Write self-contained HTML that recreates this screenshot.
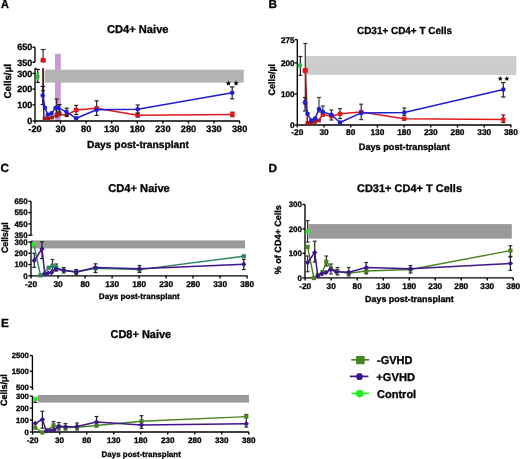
<!DOCTYPE html>
<html><head><meta charset="utf-8"><title>Figure</title>
<style>
html,body{margin:0;padding:0;background:#fff;}
body{width:520px;height:459px;overflow:hidden;}
svg{display:block;filter:blur(0.3px);}
</style></head>
<body>
<svg width="520" height="459" viewBox="0 0 520 459" font-family="Liberation Sans, sans-serif" font-weight="bold" fill="#000" style="text-rendering:geometricPrecision">
<style>text{font-family:"Liberation Sans",sans-serif;font-weight:bold;stroke:#000;stroke-width:0.3px;}</style>
<rect x="0" y="0" width="520" height="459" fill="#fff"/>
<text x="1.0" y="8.4" font-size="11.8" text-anchor="start" textLength="7.9" lengthAdjust="spacingAndGlyphs" >A</text>
<text x="107" y="33" font-size="11.3" text-anchor="start" textLength="61.5" lengthAdjust="spacingAndGlyphs" >CD4+ Naive</text>
<rect x="55" y="53.8" width="5.8" height="67.2" fill="#c89bd2"/>
<rect x="44.6" y="69.6" width="199.20000000000002" height="13.0" fill="#b3b3b3"/>
<line x1="35" y1="47.2" x2="35" y2="62.3" stroke="#000" stroke-width="1.35"/>
<line x1="32.4" y1="47.2" x2="35" y2="47.2" stroke="#000" stroke-width="1.35"/>
<text x="32.2" y="50.440000000000005" font-size="9" text-anchor="end" >650</text>
<line x1="32.4" y1="62.3" x2="35" y2="62.3" stroke="#000" stroke-width="1.35"/>
<text x="32.2" y="65.53999999999999" font-size="9" text-anchor="end" >350</text>
<line x1="35" y1="68.3" x2="35" y2="121" stroke="#000" stroke-width="1.35"/>
<line x1="32.4" y1="73.4" x2="35" y2="73.4" stroke="#000" stroke-width="1.35"/>
<text x="32.2" y="76.64" font-size="9" text-anchor="end" >300</text>
<line x1="32.4" y1="89.1" x2="35" y2="89.1" stroke="#000" stroke-width="1.35"/>
<text x="32.2" y="92.33999999999999" font-size="9" text-anchor="end" >200</text>
<line x1="32.4" y1="104.9" x2="35" y2="104.9" stroke="#000" stroke-width="1.35"/>
<text x="32.2" y="108.14" font-size="9" text-anchor="end" >100</text>
<line x1="32.4" y1="121" x2="35" y2="121" stroke="#000" stroke-width="1.35"/>
<text x="32.2" y="124.24" font-size="9" text-anchor="end" >0</text>
<line x1="35" y1="68.3" x2="36.6" y2="68.3" stroke="#000" stroke-width="1.1"/>
<line x1="34.5" y1="121" x2="239.8" y2="121" stroke="#000" stroke-width="1.35"/>
<line x1="35.0" y1="121" x2="35.0" y2="123.6" stroke="#000" stroke-width="1.35"/>
<text x="35.0" y="132.4" font-size="9.2" text-anchor="middle" >-20</text>
<line x1="60.575" y1="121" x2="60.575" y2="123.6" stroke="#000" stroke-width="1.35"/>
<text x="60.575" y="132.4" font-size="9.2" text-anchor="middle" >30</text>
<line x1="86.15" y1="121" x2="86.15" y2="123.6" stroke="#000" stroke-width="1.35"/>
<text x="86.15" y="132.4" font-size="9.2" text-anchor="middle" >80</text>
<line x1="111.725" y1="121" x2="111.725" y2="123.6" stroke="#000" stroke-width="1.35"/>
<text x="111.725" y="132.4" font-size="9.2" text-anchor="middle" >130</text>
<line x1="137.3" y1="121" x2="137.3" y2="123.6" stroke="#000" stroke-width="1.35"/>
<text x="137.3" y="132.4" font-size="9.2" text-anchor="middle" >180</text>
<line x1="162.875" y1="121" x2="162.875" y2="123.6" stroke="#000" stroke-width="1.35"/>
<text x="162.875" y="132.4" font-size="9.2" text-anchor="middle" >230</text>
<line x1="188.45" y1="121" x2="188.45" y2="123.6" stroke="#000" stroke-width="1.35"/>
<text x="188.45" y="132.4" font-size="9.2" text-anchor="middle" >280</text>
<line x1="214.02499999999998" y1="121" x2="214.02499999999998" y2="123.6" stroke="#000" stroke-width="1.35"/>
<text x="214.02499999999998" y="132.4" font-size="9.2" text-anchor="middle" >330</text>
<line x1="239.6" y1="121" x2="239.6" y2="123.6" stroke="#000" stroke-width="1.35"/>
<text x="239.6" y="132.4" font-size="9.2" text-anchor="middle" >380</text>
<text x="87" y="148" font-size="10.2" text-anchor="start" textLength="102" lengthAdjust="spacingAndGlyphs" >Days post-transplant</text>
<text x="11.2" y="98.4" font-size="9.9" transform="rotate(-90 11.2 98.4)" textLength="34.3" lengthAdjust="spacingAndGlyphs">Cells/µl</text>
<line x1="37.7" y1="69.4" x2="37.7" y2="82.4" stroke="#111" stroke-width="1.2"/>
<line x1="35.6" y1="69.4" x2="39.800000000000004" y2="69.4" stroke="#111" stroke-width="1.2"/>
<line x1="35.6" y1="82.4" x2="39.800000000000004" y2="82.4" stroke="#111" stroke-width="1.2"/>
<line x1="37.7" y1="72.5" x2="37.7" y2="80.4" stroke="#3cb43c" stroke-width="2.6"/>
<circle cx="37.7" cy="76.4" r="2.0" fill="#3cb43c"/>
<line x1="43.1" y1="49.5" x2="43.1" y2="61" stroke="#333" stroke-width="1.2"/>
<line x1="40.7" y1="49.5" x2="45.5" y2="49.5" stroke="#333" stroke-width="1.2"/>
<line x1="40.7" y1="61" x2="45.5" y2="61" stroke="#333" stroke-width="1.2"/>
<line x1="43.05" y1="68.3" x2="43.05" y2="86.5" stroke="#5a1010" stroke-width="1.3"/>
<line x1="41" y1="86.5" x2="45.2" y2="86.5" stroke="#5a1010" stroke-width="1.1"/>
<line x1="41" y1="90.7" x2="45.2" y2="90.7" stroke="#5a1010" stroke-width="1.1"/>
<line x1="56.6" y1="99" x2="56.6" y2="117" stroke="#3a2020" stroke-width="1.2"/>
<line x1="54.5" y1="99" x2="58.7" y2="99" stroke="#3a2020" stroke-width="1.2"/>
<line x1="54.5" y1="117" x2="58.7" y2="117" stroke="#3a2020" stroke-width="1.2"/>
<line x1="76.2" y1="105.4" x2="76.2" y2="114.6" stroke="#3a2020" stroke-width="1.2"/>
<line x1="74.10000000000001" y1="105.4" x2="78.3" y2="105.4" stroke="#3a2020" stroke-width="1.2"/>
<line x1="74.10000000000001" y1="114.6" x2="78.3" y2="114.6" stroke="#3a2020" stroke-width="1.2"/>
<line x1="96.6" y1="100.8" x2="96.6" y2="115.4" stroke="#2a2a2a" stroke-width="1.2"/>
<line x1="94.5" y1="100.8" x2="98.69999999999999" y2="100.8" stroke="#2a2a2a" stroke-width="1.2"/>
<line x1="94.5" y1="115.4" x2="98.69999999999999" y2="115.4" stroke="#2a2a2a" stroke-width="1.2"/>
<line x1="232.4" y1="112.2" x2="232.4" y2="116.6" stroke="#5a1010" stroke-width="1.2"/>
<line x1="230.3" y1="112.2" x2="234.5" y2="112.2" stroke="#5a1010" stroke-width="1.2"/>
<line x1="230.3" y1="116.6" x2="234.5" y2="116.6" stroke="#5a1010" stroke-width="1.2"/>
<line x1="137.7" y1="113.5" x2="137.7" y2="117" stroke="#5a1010" stroke-width="1.2"/>
<line x1="135.6" y1="113.5" x2="139.79999999999998" y2="113.5" stroke="#5a1010" stroke-width="1.2"/>
<line x1="135.6" y1="117" x2="139.79999999999998" y2="117" stroke="#5a1010" stroke-width="1.2"/>
<polyline points="44.6,118.2 48.2,118.8 52,117.6 56.6,114.6 59.6,114.2 66.8,115.2 76.2,110 96.6,108.2 137.7,115.3 232.4,114.4" fill="none" stroke="#e0191e" stroke-width="1.5" stroke-linejoin="round"/>
<line x1="43.05" y1="68.3" x2="43.9" y2="118" stroke="#5a1010" stroke-width="1.4"/>
<rect x="42.7" y="116.3" width="3.8" height="3.8" fill="#a81818"/>
<rect x="46.300000000000004" y="116.89999999999999" width="3.8" height="3.8" fill="#a81818"/>
<rect x="50.1" y="115.69999999999999" width="3.8" height="3.8" fill="#a81818"/>
<rect x="54.7" y="112.69999999999999" width="3.8" height="3.8" fill="#a81818"/>
<rect x="57.7" y="112.3" width="3.8" height="3.8" fill="#a81818"/>
<rect x="64.89999999999999" y="113.3" width="3.8" height="3.8" fill="#a81818"/>
<rect x="74.0" y="107.8" width="4.4" height="4.4" fill="#e0191e"/>
<rect x="94.39999999999999" y="106.0" width="4.4" height="4.4" fill="#e0191e"/>
<rect x="135.5" y="113.1" width="4.4" height="4.4" fill="#e0191e"/>
<rect x="230.20000000000002" y="112.2" width="4.4" height="4.4" fill="#e0191e"/>
<rect x="40.6" y="57.7" width="5.1" height="5" rx="1.2" fill="#e0191e"/>
<line x1="42.7" y1="86.4" x2="42.7" y2="104.6" stroke="#1a1a4a" stroke-width="1.2"/>
<line x1="40.6" y1="86.4" x2="44.800000000000004" y2="86.4" stroke="#1a1a4a" stroke-width="1.2"/>
<line x1="40.6" y1="104.6" x2="44.800000000000004" y2="104.6" stroke="#1a1a4a" stroke-width="1.2"/>
<line x1="59.5" y1="104.6" x2="59.5" y2="112" stroke="#222" stroke-width="1.2"/>
<line x1="57.4" y1="104.6" x2="61.6" y2="104.6" stroke="#222" stroke-width="1.2"/>
<line x1="57.4" y1="112" x2="61.6" y2="112" stroke="#222" stroke-width="1.2"/>
<line x1="66.8" y1="108.2" x2="66.8" y2="116.2" stroke="#222" stroke-width="1.2"/>
<line x1="64.7" y1="108.2" x2="68.89999999999999" y2="108.2" stroke="#222" stroke-width="1.2"/>
<line x1="64.7" y1="116.2" x2="68.89999999999999" y2="116.2" stroke="#222" stroke-width="1.2"/>
<line x1="137.7" y1="105" x2="137.7" y2="113" stroke="#222" stroke-width="1.2"/>
<line x1="135.6" y1="105" x2="139.79999999999998" y2="105" stroke="#222" stroke-width="1.2"/>
<line x1="135.6" y1="113" x2="139.79999999999998" y2="113" stroke="#222" stroke-width="1.2"/>
<line x1="232.2" y1="86.9" x2="232.2" y2="98.8" stroke="#222" stroke-width="1.2"/>
<line x1="230.0" y1="86.9" x2="234.39999999999998" y2="86.9" stroke="#222" stroke-width="1.2"/>
<line x1="230.0" y1="98.8" x2="234.39999999999998" y2="98.8" stroke="#222" stroke-width="1.2"/>
<polyline points="42.7,95.5 44.9,107.8 47.9,114.8 51.5,113.4 55.5,108 58,107.6 66.4,111.8 76.2,118.3 96.6,109.7 137.7,109.2 232.2,92.8" fill="none" stroke="#1e1ed2" stroke-width="1.5" stroke-linejoin="round"/>
<circle cx="42.7" cy="95.5" r="2.3" fill="#1e1ed2"/>
<circle cx="44.9" cy="107.8" r="2.3" fill="#1e1ed2"/>
<circle cx="47.9" cy="114.8" r="2.3" fill="#1e1ed2"/>
<circle cx="51.5" cy="113.4" r="2.3" fill="#1e1ed2"/>
<circle cx="55.5" cy="108" r="2.3" fill="#1e1ed2"/>
<circle cx="58" cy="107.6" r="2.3" fill="#1e1ed2"/>
<circle cx="66.4" cy="111.8" r="2.3" fill="#1e1ed2"/>
<circle cx="76.2" cy="118.3" r="2.3" fill="#1e1ed2"/>
<circle cx="96.6" cy="109.7" r="2.3" fill="#1e1ed2"/>
<circle cx="137.7" cy="109.2" r="2.3" fill="#1e1ed2"/>
<circle cx="232.2" cy="92.8" r="2.3" fill="#1e1ed2"/>
<polygon points="228.40,80.60 229.19,82.21 230.97,82.47 229.68,83.72 229.99,85.48 228.40,84.65 226.81,85.48 227.12,83.72 225.83,82.47 227.61,82.21" fill="#000"/>
<polygon points="236.10,80.60 236.89,82.21 238.67,82.47 237.38,83.72 237.69,85.48 236.10,84.65 234.51,85.48 234.82,83.72 233.53,82.47 235.31,82.21" fill="#000"/>
<text x="268.6" y="8.2" font-size="11.8" text-anchor="start" >B</text>
<text x="357" y="34.3" font-size="10.2" text-anchor="start" textLength="95" lengthAdjust="spacingAndGlyphs" >CD31+ CD4+ T Cells</text>
<rect x="305.8" y="56.1" width="210.49999999999994" height="18.9" fill="#cdcdcd"/>
<line x1="297.3" y1="39.6" x2="297.3" y2="125" stroke="#000" stroke-width="1.35"/>
<line x1="294.7" y1="39.6125" x2="297.3" y2="39.6125" stroke="#000" stroke-width="1.35"/>
<text x="294.6" y="42.564499999999995" font-size="8.2" text-anchor="end" >275</text>
<line x1="294.7" y1="62.9" x2="297.3" y2="62.9" stroke="#000" stroke-width="1.35"/>
<text x="294.6" y="65.852" font-size="8.2" text-anchor="end" >200</text>
<line x1="294.7" y1="93.95" x2="297.3" y2="93.95" stroke="#000" stroke-width="1.35"/>
<text x="294.6" y="96.902" font-size="8.2" text-anchor="end" >100</text>
<line x1="294.7" y1="125.0" x2="297.3" y2="125.0" stroke="#000" stroke-width="1.35"/>
<text x="294.6" y="127.952" font-size="8.2" text-anchor="end" >0</text>
<line x1="296.8" y1="125" x2="511.2" y2="125" stroke="#000" stroke-width="1.35"/>
<line x1="297.3" y1="125" x2="297.3" y2="127.6" stroke="#000" stroke-width="1.35"/>
<text x="297.3" y="135.4" font-size="8.3" text-anchor="middle" >-20</text>
<line x1="324.0" y1="125" x2="324.0" y2="127.6" stroke="#000" stroke-width="1.35"/>
<text x="324.0" y="135.4" font-size="8.3" text-anchor="middle" >30</text>
<line x1="350.70000000000005" y1="125" x2="350.70000000000005" y2="127.6" stroke="#000" stroke-width="1.35"/>
<text x="350.70000000000005" y="135.4" font-size="8.3" text-anchor="middle" >80</text>
<line x1="377.40000000000003" y1="125" x2="377.40000000000003" y2="127.6" stroke="#000" stroke-width="1.35"/>
<text x="377.40000000000003" y="135.4" font-size="8.3" text-anchor="middle" >130</text>
<line x1="404.1" y1="125" x2="404.1" y2="127.6" stroke="#000" stroke-width="1.35"/>
<text x="404.1" y="135.4" font-size="8.3" text-anchor="middle" >180</text>
<line x1="430.8" y1="125" x2="430.8" y2="127.6" stroke="#000" stroke-width="1.35"/>
<text x="430.8" y="135.4" font-size="8.3" text-anchor="middle" >230</text>
<line x1="457.5" y1="125" x2="457.5" y2="127.6" stroke="#000" stroke-width="1.35"/>
<text x="457.5" y="135.4" font-size="8.3" text-anchor="middle" >280</text>
<line x1="484.20000000000005" y1="125" x2="484.20000000000005" y2="127.6" stroke="#000" stroke-width="1.35"/>
<text x="484.20000000000005" y="135.4" font-size="8.3" text-anchor="middle" >330</text>
<line x1="510.90000000000003" y1="125" x2="510.90000000000003" y2="127.6" stroke="#000" stroke-width="1.35"/>
<text x="510.90000000000003" y="135.4" font-size="8.3" text-anchor="middle" >380</text>
<text x="358.8" y="150.0" font-size="9.4" text-anchor="start" textLength="91.2" lengthAdjust="spacingAndGlyphs" >Days post-transplant</text>
<text x="275.2" y="95.4" font-size="9.4" transform="rotate(-90 275.2 95.4)" textLength="31.5" lengthAdjust="spacingAndGlyphs">Cells/µl</text>
<line x1="300.4" y1="56.5" x2="300.4" y2="75.3" stroke="#222" stroke-width="1.2"/>
<line x1="298.4" y1="56.5" x2="302.4" y2="56.5" stroke="#222" stroke-width="1.2"/>
<line x1="298.4" y1="75.3" x2="302.4" y2="75.3" stroke="#222" stroke-width="1.2"/>
<circle cx="299.9" cy="65.4" r="2.4" fill="#30c040"/>
<line x1="305.3" y1="43.5" x2="305.3" y2="104" stroke="#3a2a2a" stroke-width="1.2"/>
<line x1="303.3" y1="43.5" x2="307.3" y2="43.5" stroke="#3a2a2a" stroke-width="1.2"/>
<line x1="303.3" y1="104" x2="307.3" y2="104" stroke="#3a2a2a" stroke-width="1.2"/>
<line x1="319" y1="97.5" x2="319" y2="112" stroke="#444" stroke-width="1.2"/>
<line x1="317.0" y1="97.5" x2="321.0" y2="97.5" stroke="#444" stroke-width="1.2"/>
<line x1="317.0" y1="112" x2="321.0" y2="112" stroke="#444" stroke-width="1.2"/>
<line x1="322.8" y1="106" x2="322.8" y2="116" stroke="#333" stroke-width="1.2"/>
<line x1="320.8" y1="106" x2="324.8" y2="106" stroke="#333" stroke-width="1.2"/>
<line x1="320.8" y1="116" x2="324.8" y2="116" stroke="#333" stroke-width="1.2"/>
<line x1="331.4" y1="110" x2="331.4" y2="120" stroke="#333" stroke-width="1.2"/>
<line x1="329.4" y1="110" x2="333.4" y2="110" stroke="#333" stroke-width="1.2"/>
<line x1="329.4" y1="120" x2="333.4" y2="120" stroke="#333" stroke-width="1.2"/>
<line x1="340" y1="108.7" x2="340" y2="118.6" stroke="#333" stroke-width="1.2"/>
<line x1="338.0" y1="108.7" x2="342.0" y2="108.7" stroke="#333" stroke-width="1.2"/>
<line x1="338.0" y1="118.6" x2="342.0" y2="118.6" stroke="#333" stroke-width="1.2"/>
<line x1="361.2" y1="104.2" x2="361.2" y2="119.6" stroke="#333" stroke-width="1.2"/>
<line x1="359.2" y1="104.2" x2="363.2" y2="104.2" stroke="#333" stroke-width="1.2"/>
<line x1="359.2" y1="119.6" x2="363.2" y2="119.6" stroke="#333" stroke-width="1.2"/>
<line x1="404.3" y1="108" x2="404.3" y2="115.5" stroke="#333" stroke-width="1.2"/>
<line x1="402.3" y1="108" x2="406.3" y2="108" stroke="#333" stroke-width="1.2"/>
<line x1="402.3" y1="115.5" x2="406.3" y2="115.5" stroke="#333" stroke-width="1.2"/>
<line x1="503.3" y1="115" x2="503.3" y2="122.5" stroke="#5a1010" stroke-width="1.2"/>
<line x1="501.3" y1="115" x2="505.3" y2="115" stroke="#5a1010" stroke-width="1.2"/>
<line x1="501.3" y1="122.5" x2="505.3" y2="122.5" stroke="#5a1010" stroke-width="1.2"/>
<polyline points="307.4,122.9 311,123 315,122 319,120.5 322.8,114.5 331.4,116.2 340,113.8 361.2,112 404.3,118.8 503.3,119.5" fill="none" stroke="#e0191e" stroke-width="1.5" stroke-linejoin="round"/>
<line x1="305.5" y1="70.7" x2="307.4" y2="122.9" stroke="#a01515" stroke-width="1.5"/>
<rect x="303.35" y="68.55" width="4.3" height="4.3" fill="#e0191e"/>
<rect x="305.5" y="121.0" width="3.8" height="3.8" fill="#b01818"/>
<rect x="309.1" y="121.1" width="3.8" height="3.8" fill="#b01818"/>
<rect x="313.1" y="120.1" width="3.8" height="3.8" fill="#b01818"/>
<rect x="317.1" y="118.6" width="3.8" height="3.8" fill="#b01818"/>
<rect x="320.65000000000003" y="112.35" width="4.3" height="4.3" fill="#e0191e"/>
<rect x="329.25" y="114.05" width="4.3" height="4.3" fill="#e0191e"/>
<rect x="337.85" y="111.64999999999999" width="4.3" height="4.3" fill="#e0191e"/>
<rect x="359.05" y="109.85" width="4.3" height="4.3" fill="#e0191e"/>
<rect x="402.15000000000003" y="116.64999999999999" width="4.3" height="4.3" fill="#e0191e"/>
<rect x="501.15000000000003" y="117.35" width="4.3" height="4.3" fill="#e0191e"/>
<rect x="302.6" y="68.1" width="5.1" height="5.1" rx="1.2" fill="#e0191e"/>
<line x1="503.3" y1="82.5" x2="503.3" y2="97" stroke="#222" stroke-width="1.2"/>
<line x1="501.1" y1="82.5" x2="505.5" y2="82.5" stroke="#222" stroke-width="1.2"/>
<line x1="501.1" y1="97" x2="505.5" y2="97" stroke="#222" stroke-width="1.2"/>
<polyline points="305,102.3 307.5,113.8 311.3,120.5 315.1,118.6 319,109 322.8,111.9 331.4,114.8 340,122.5 361.2,112.9 404.3,112.5 503.3,89.5" fill="none" stroke="#1e1ed2" stroke-width="1.5" stroke-linejoin="round"/>
<line x1="305" y1="97.5" x2="305" y2="111" stroke="#222" stroke-width="1.2"/>
<line x1="303.0" y1="97.5" x2="307.0" y2="97.5" stroke="#222" stroke-width="1.2"/>
<line x1="303.0" y1="111" x2="307.0" y2="111" stroke="#222" stroke-width="1.2"/>
<circle cx="305" cy="102.3" r="2.3" fill="#1e1ed2"/>
<circle cx="307.5" cy="113.8" r="2.3" fill="#1e1ed2"/>
<circle cx="311.3" cy="120.5" r="2.3" fill="#1e1ed2"/>
<circle cx="315.1" cy="118.6" r="2.3" fill="#1e1ed2"/>
<circle cx="319" cy="109" r="2.3" fill="#1e1ed2"/>
<circle cx="322.8" cy="111.9" r="2.3" fill="#1e1ed2"/>
<circle cx="331.4" cy="114.8" r="2.3" fill="#1e1ed2"/>
<circle cx="340" cy="122.5" r="2.3" fill="#1e1ed2"/>
<circle cx="361.2" cy="112.9" r="2.3" fill="#1e1ed2"/>
<circle cx="404.3" cy="112.5" r="2.3" fill="#1e1ed2"/>
<circle cx="503.3" cy="89.5" r="2.3" fill="#1e1ed2"/>
<polygon points="500.30,76.10 501.06,77.65 502.77,77.90 501.54,79.10 501.83,80.80 500.30,80.00 498.77,80.80 499.06,79.10 497.83,77.90 499.54,77.65" fill="#000"/>
<polygon points="506.80,76.10 507.56,77.65 509.27,77.90 508.04,79.10 508.33,80.80 506.80,80.00 505.27,80.80 505.56,79.10 504.33,77.90 506.04,77.65" fill="#000"/>
<text x="0.6" y="172.2" font-size="11.8" text-anchor="start" >C</text>
<text x="108.3" y="192" font-size="11.3" text-anchor="start" textLength="61.5" lengthAdjust="spacingAndGlyphs" >CD4+ Naive</text>
<rect x="31.5" y="240.4" width="213.5" height="8.0" fill="#999999"/>
<line x1="31" y1="201.3" x2="31" y2="235.2" stroke="#000" stroke-width="1.35"/>
<line x1="28.4" y1="201.26999999999998" x2="31" y2="201.26999999999998" stroke="#000" stroke-width="1.35"/>
<text x="27.6" y="204.11399999999998" font-size="7.9" text-anchor="end" >650</text>
<line x1="28.4" y1="212.57999999999998" x2="31" y2="212.57999999999998" stroke="#000" stroke-width="1.35"/>
<text x="27.6" y="215.42399999999998" font-size="7.9" text-anchor="end" >550</text>
<line x1="28.4" y1="223.89" x2="31" y2="223.89" stroke="#000" stroke-width="1.35"/>
<text x="27.6" y="226.73399999999998" font-size="7.9" text-anchor="end" >450</text>
<line x1="28.4" y1="235.2" x2="31" y2="235.2" stroke="#000" stroke-width="1.35"/>
<text x="27.6" y="238.04399999999998" font-size="7.9" text-anchor="end" >350</text>
<line x1="31" y1="241.2" x2="31" y2="275.8" stroke="#000" stroke-width="1.35"/>
<line x1="28.4" y1="242.05" x2="31" y2="242.05" stroke="#000" stroke-width="1.35"/>
<text x="27.6" y="244.894" font-size="7.9" text-anchor="end" >300</text>
<line x1="28.4" y1="253.3" x2="31" y2="253.3" stroke="#000" stroke-width="1.35"/>
<text x="27.6" y="256.144" font-size="7.9" text-anchor="end" >200</text>
<line x1="28.4" y1="264.55" x2="31" y2="264.55" stroke="#000" stroke-width="1.35"/>
<text x="27.6" y="267.394" font-size="7.9" text-anchor="end" >100</text>
<line x1="28.4" y1="275.8" x2="31" y2="275.8" stroke="#000" stroke-width="1.35"/>
<text x="27.6" y="278.644" font-size="7.9" text-anchor="end" >0</text>
<line x1="31" y1="235.2" x2="32.6" y2="235.2" stroke="#000" stroke-width="1.1"/>
<line x1="31" y1="241.2" x2="32.6" y2="241.2" stroke="#000" stroke-width="1.1"/>
<line x1="30.5" y1="275.8" x2="247.3" y2="275.8" stroke="#000" stroke-width="1.35"/>
<line x1="31.1" y1="275.8" x2="31.1" y2="278.40000000000003" stroke="#000" stroke-width="1.35"/>
<text x="31.1" y="286.6" font-size="8.3" text-anchor="middle" >-20</text>
<line x1="58.1" y1="275.8" x2="58.1" y2="278.40000000000003" stroke="#000" stroke-width="1.35"/>
<text x="58.1" y="286.6" font-size="8.3" text-anchor="middle" >30</text>
<line x1="85.1" y1="275.8" x2="85.1" y2="278.40000000000003" stroke="#000" stroke-width="1.35"/>
<text x="85.1" y="286.6" font-size="8.3" text-anchor="middle" >80</text>
<line x1="112.1" y1="275.8" x2="112.1" y2="278.40000000000003" stroke="#000" stroke-width="1.35"/>
<text x="112.1" y="286.6" font-size="8.3" text-anchor="middle" >130</text>
<line x1="139.1" y1="275.8" x2="139.1" y2="278.40000000000003" stroke="#000" stroke-width="1.35"/>
<text x="139.1" y="286.6" font-size="8.3" text-anchor="middle" >180</text>
<line x1="166.1" y1="275.8" x2="166.1" y2="278.40000000000003" stroke="#000" stroke-width="1.35"/>
<text x="166.1" y="286.6" font-size="8.3" text-anchor="middle" >230</text>
<line x1="193.1" y1="275.8" x2="193.1" y2="278.40000000000003" stroke="#000" stroke-width="1.35"/>
<text x="193.1" y="286.6" font-size="8.3" text-anchor="middle" >280</text>
<line x1="220.1" y1="275.8" x2="220.1" y2="278.40000000000003" stroke="#000" stroke-width="1.35"/>
<text x="220.1" y="286.6" font-size="8.3" text-anchor="middle" >330</text>
<line x1="247.1" y1="275.8" x2="247.1" y2="278.40000000000003" stroke="#000" stroke-width="1.35"/>
<text x="247.1" y="286.6" font-size="8.3" text-anchor="middle" >380</text>
<text x="98.8" y="298.8" font-size="8.1" text-anchor="start" textLength="80.8" lengthAdjust="spacingAndGlyphs" >Days post-transplant</text>
<text x="7.6" y="253" font-size="9.3" transform="rotate(-90 7.6 253)" textLength="30.8" lengthAdjust="spacingAndGlyphs">Cells/µl</text>
<line x1="34.25" y1="253.3" x2="34.25" y2="267.3" stroke="#222" stroke-width="1.2"/>
<line x1="32.35" y1="253.3" x2="36.15" y2="253.3" stroke="#222" stroke-width="1.2"/>
<line x1="32.35" y1="267.3" x2="36.15" y2="267.3" stroke="#222" stroke-width="1.2"/>
<line x1="42" y1="241.8" x2="42" y2="258.6" stroke="#222" stroke-width="1.2"/>
<line x1="40.1" y1="241.8" x2="43.9" y2="241.8" stroke="#222" stroke-width="1.2"/>
<line x1="40.1" y1="258.6" x2="43.9" y2="258.6" stroke="#222" stroke-width="1.2"/>
<line x1="52.5" y1="259.5" x2="52.5" y2="270" stroke="#333" stroke-width="1.2"/>
<line x1="50.6" y1="259.5" x2="54.4" y2="259.5" stroke="#333" stroke-width="1.2"/>
<line x1="50.6" y1="270" x2="54.4" y2="270" stroke="#333" stroke-width="1.2"/>
<line x1="56.25" y1="264" x2="56.25" y2="271" stroke="#333" stroke-width="1.2"/>
<line x1="54.35" y1="264" x2="58.15" y2="264" stroke="#333" stroke-width="1.2"/>
<line x1="54.35" y1="271" x2="58.15" y2="271" stroke="#333" stroke-width="1.2"/>
<line x1="63.7" y1="267.5" x2="63.7" y2="273" stroke="#333" stroke-width="1.2"/>
<line x1="61.800000000000004" y1="267.5" x2="65.60000000000001" y2="267.5" stroke="#333" stroke-width="1.2"/>
<line x1="61.800000000000004" y1="273" x2="65.60000000000001" y2="273" stroke="#333" stroke-width="1.2"/>
<line x1="76.2" y1="269.5" x2="76.2" y2="274.5" stroke="#333" stroke-width="1.2"/>
<line x1="74.3" y1="269.5" x2="78.10000000000001" y2="269.5" stroke="#333" stroke-width="1.2"/>
<line x1="74.3" y1="274.5" x2="78.10000000000001" y2="274.5" stroke="#333" stroke-width="1.2"/>
<line x1="95.5" y1="263.8" x2="95.5" y2="272.5" stroke="#222" stroke-width="1.2"/>
<line x1="93.6" y1="263.8" x2="97.4" y2="263.8" stroke="#222" stroke-width="1.2"/>
<line x1="93.6" y1="272.5" x2="97.4" y2="272.5" stroke="#222" stroke-width="1.2"/>
<line x1="139.5" y1="265.5" x2="139.5" y2="272.5" stroke="#222" stroke-width="1.2"/>
<line x1="137.6" y1="265.5" x2="141.4" y2="265.5" stroke="#222" stroke-width="1.2"/>
<line x1="137.6" y1="272.5" x2="141.4" y2="272.5" stroke="#222" stroke-width="1.2"/>
<line x1="243.75" y1="259.5" x2="243.75" y2="269.5" stroke="#222" stroke-width="1.2"/>
<line x1="241.85" y1="259.5" x2="245.65" y2="259.5" stroke="#222" stroke-width="1.2"/>
<line x1="241.85" y1="269.5" x2="245.65" y2="269.5" stroke="#222" stroke-width="1.2"/>
<polyline points="33.8,244.2 40.5,275.4 48.7,267.7 52.5,265.8 56.25,267.5 63.75,270.5 76.25,272 95.5,268.4 139.5,269.6 243.75,256.3" fill="none" stroke="#2a855a" stroke-width="1.4" stroke-linejoin="round"/>
<rect x="38.4" y="273.29999999999995" width="4.2" height="4.2" fill="#2a855a"/>
<rect x="46.6" y="265.59999999999997" width="4.2" height="4.2" fill="#2a855a"/>
<rect x="50.4" y="263.7" width="4.2" height="4.2" fill="#2a855a"/>
<rect x="54.15" y="265.4" width="4.2" height="4.2" fill="#2a855a"/>
<rect x="61.65" y="268.4" width="4.2" height="4.2" fill="#2a855a"/>
<rect x="74.15" y="269.9" width="4.2" height="4.2" fill="#2a855a"/>
<rect x="93.4" y="266.29999999999995" width="4.2" height="4.2" fill="#2a855a"/>
<rect x="137.4" y="267.5" width="4.2" height="4.2" fill="#2a855a"/>
<rect x="241.65" y="254.20000000000002" width="4.2" height="4.2" fill="#2a855a"/>
<polyline points="34.25,260.5 42,249 44.8,274 48,273 51.5,272.5 55.9,269.2 63.6,270.3 76.2,272 95.5,267.6 139.5,268.7 243.75,264.2" fill="none" stroke="#40148a" stroke-width="1.5" stroke-linejoin="round"/>
<polygon points="34.25,257.8 36.95,260.5 34.25,263.2 31.55,260.5" fill="#40148a"/>
<polygon points="42,246.3 44.7,249 42,251.7 39.3,249" fill="#40148a"/>
<polygon points="44.8,271.3 47.5,274 44.8,276.7 42.099999999999994,274" fill="#40148a"/>
<polygon points="48,270.3 50.7,273 48,275.7 45.3,273" fill="#40148a"/>
<polygon points="51.5,269.8 54.2,272.5 51.5,275.2 48.8,272.5" fill="#40148a"/>
<polygon points="55.9,266.5 58.6,269.2 55.9,271.9 53.199999999999996,269.2" fill="#40148a"/>
<polygon points="63.6,267.6 66.3,270.3 63.6,273.0 60.9,270.3" fill="#40148a"/>
<polygon points="76.2,269.3 78.9,272 76.2,274.7 73.5,272" fill="#40148a"/>
<polygon points="95.5,264.90000000000003 98.2,267.6 95.5,270.3 92.8,267.6" fill="#40148a"/>
<polygon points="139.5,266.0 142.2,268.7 139.5,271.4 136.8,268.7" fill="#40148a"/>
<polygon points="243.75,261.5 246.45,264.2 243.75,266.9 241.05,264.2" fill="#40148a"/>
<rect x="31.9" y="242.29999999999998" width="3.8" height="3.8" fill="#22ee22"/>
<text x="268.4" y="172.0" font-size="11.8" text-anchor="start" >D</text>
<text x="357" y="192.2" font-size="11" text-anchor="start" textLength="105" lengthAdjust="spacingAndGlyphs" >CD31+ CD4+ T Cells</text>
<rect x="308.6" y="224.1" width="203.2" height="14.599999999999994" fill="#999999"/>
<line x1="305" y1="204.5" x2="305" y2="277.8" stroke="#000" stroke-width="1.35"/>
<line x1="302.4" y1="204.45000000000002" x2="305" y2="204.45000000000002" stroke="#000" stroke-width="1.35"/>
<text x="301.8" y="207.294" font-size="7.9" text-anchor="end" >300</text>
<line x1="302.4" y1="228.9" x2="305" y2="228.9" stroke="#000" stroke-width="1.35"/>
<text x="301.8" y="231.744" font-size="7.9" text-anchor="end" >200</text>
<line x1="302.4" y1="253.35000000000002" x2="305" y2="253.35000000000002" stroke="#000" stroke-width="1.35"/>
<text x="301.8" y="256.194" font-size="7.9" text-anchor="end" >100</text>
<line x1="302.4" y1="277.8" x2="305" y2="277.8" stroke="#000" stroke-width="1.35"/>
<text x="301.8" y="280.644" font-size="7.9" text-anchor="end" >0</text>
<line x1="304.5" y1="277.9" x2="513.4" y2="277.9" stroke="#000" stroke-width="1.35"/>
<line x1="305.2" y1="277.9" x2="305.2" y2="280.5" stroke="#000" stroke-width="1.35"/>
<text x="305.2" y="288.6" font-size="8.3" text-anchor="middle" >-20</text>
<line x1="331.2" y1="277.9" x2="331.2" y2="280.5" stroke="#000" stroke-width="1.35"/>
<text x="331.2" y="288.6" font-size="8.3" text-anchor="middle" >30</text>
<line x1="357.2" y1="277.9" x2="357.2" y2="280.5" stroke="#000" stroke-width="1.35"/>
<text x="357.2" y="288.6" font-size="8.3" text-anchor="middle" >80</text>
<line x1="383.2" y1="277.9" x2="383.2" y2="280.5" stroke="#000" stroke-width="1.35"/>
<text x="383.2" y="288.6" font-size="8.3" text-anchor="middle" >130</text>
<line x1="409.2" y1="277.9" x2="409.2" y2="280.5" stroke="#000" stroke-width="1.35"/>
<text x="409.2" y="288.6" font-size="8.3" text-anchor="middle" >180</text>
<line x1="435.2" y1="277.9" x2="435.2" y2="280.5" stroke="#000" stroke-width="1.35"/>
<text x="435.2" y="288.6" font-size="8.3" text-anchor="middle" >230</text>
<line x1="461.2" y1="277.9" x2="461.2" y2="280.5" stroke="#000" stroke-width="1.35"/>
<text x="461.2" y="288.6" font-size="8.3" text-anchor="middle" >280</text>
<line x1="487.2" y1="277.9" x2="487.2" y2="280.5" stroke="#000" stroke-width="1.35"/>
<text x="487.2" y="288.6" font-size="8.3" text-anchor="middle" >330</text>
<line x1="513.2" y1="277.9" x2="513.2" y2="280.5" stroke="#000" stroke-width="1.35"/>
<text x="513.2" y="288.6" font-size="8.3" text-anchor="middle" >380</text>
<text x="365" y="302.2" font-size="8.9" text-anchor="start" textLength="88.8" lengthAdjust="spacingAndGlyphs" >Days post-transplant</text>
<text x="280.6" y="274.2" font-size="9" transform="rotate(-90 280.6 274.2)" textLength="69" lengthAdjust="spacingAndGlyphs">% of CD4+ Cells</text>
<line x1="307.6" y1="220.7" x2="307.6" y2="242" stroke="#333" stroke-width="1.2"/>
<line x1="305.70000000000005" y1="220.7" x2="309.5" y2="220.7" stroke="#333" stroke-width="1.2"/>
<line x1="305.70000000000005" y1="242" x2="309.5" y2="242" stroke="#333" stroke-width="1.2"/>
<line x1="307.6" y1="256" x2="307.6" y2="271.7" stroke="#333" stroke-width="1.2"/>
<line x1="305.70000000000005" y1="256" x2="309.5" y2="256" stroke="#333" stroke-width="1.2"/>
<line x1="305.70000000000005" y1="271.7" x2="309.5" y2="271.7" stroke="#333" stroke-width="1.2"/>
<line x1="314.7" y1="241.2" x2="314.7" y2="262" stroke="#222" stroke-width="1.2"/>
<line x1="312.8" y1="241.2" x2="316.59999999999997" y2="241.2" stroke="#222" stroke-width="1.2"/>
<line x1="312.8" y1="262" x2="316.59999999999997" y2="262" stroke="#222" stroke-width="1.2"/>
<line x1="326.3" y1="256" x2="326.3" y2="266" stroke="#333" stroke-width="1.2"/>
<line x1="324.40000000000003" y1="256" x2="328.2" y2="256" stroke="#333" stroke-width="1.2"/>
<line x1="324.40000000000003" y1="266" x2="328.2" y2="266" stroke="#333" stroke-width="1.2"/>
<line x1="331" y1="264" x2="331" y2="274" stroke="#333" stroke-width="1.2"/>
<line x1="329.1" y1="264" x2="332.9" y2="264" stroke="#333" stroke-width="1.2"/>
<line x1="329.1" y1="274" x2="332.9" y2="274" stroke="#333" stroke-width="1.2"/>
<line x1="337.5" y1="267.5" x2="337.5" y2="275" stroke="#333" stroke-width="1.2"/>
<line x1="335.6" y1="267.5" x2="339.4" y2="267.5" stroke="#333" stroke-width="1.2"/>
<line x1="335.6" y1="275" x2="339.4" y2="275" stroke="#333" stroke-width="1.2"/>
<line x1="348.75" y1="267.5" x2="348.75" y2="276" stroke="#333" stroke-width="1.2"/>
<line x1="346.85" y1="267.5" x2="350.65" y2="267.5" stroke="#333" stroke-width="1.2"/>
<line x1="346.85" y1="276" x2="350.65" y2="276" stroke="#333" stroke-width="1.2"/>
<line x1="366.25" y1="262.5" x2="366.25" y2="273.8" stroke="#222" stroke-width="1.2"/>
<line x1="364.35" y1="262.5" x2="368.15" y2="262.5" stroke="#222" stroke-width="1.2"/>
<line x1="364.35" y1="273.8" x2="368.15" y2="273.8" stroke="#222" stroke-width="1.2"/>
<line x1="410.5" y1="265.5" x2="410.5" y2="273" stroke="#222" stroke-width="1.2"/>
<line x1="408.6" y1="265.5" x2="412.4" y2="265.5" stroke="#222" stroke-width="1.2"/>
<line x1="408.6" y1="273" x2="412.4" y2="273" stroke="#222" stroke-width="1.2"/>
<line x1="510.4" y1="245.8" x2="510.4" y2="256.3" stroke="#222" stroke-width="1.2"/>
<line x1="508.5" y1="245.8" x2="512.3" y2="245.8" stroke="#222" stroke-width="1.2"/>
<line x1="508.5" y1="256.3" x2="512.3" y2="256.3" stroke="#222" stroke-width="1.2"/>
<line x1="510.4" y1="257" x2="510.4" y2="270.3" stroke="#222" stroke-width="1.2"/>
<line x1="508.5" y1="257" x2="512.3" y2="257" stroke="#222" stroke-width="1.2"/>
<line x1="508.5" y1="270.3" x2="512.3" y2="270.3" stroke="#222" stroke-width="1.2"/>
<polyline points="307.6,246.9 313.9,278 318,275 322.5,272 326.3,261.7 331,268.5 337.5,271.2 348.75,273.2 366.25,271 410.5,269.5 510.4,250.6" fill="none" stroke="#4a8420" stroke-width="1.4" stroke-linejoin="round"/>
<rect x="305.5" y="244.8" width="4.2" height="4.2" fill="#4a8420"/>
<rect x="311.79999999999995" y="275.9" width="4.2" height="4.2" fill="#4a8420"/>
<rect x="315.9" y="272.9" width="4.2" height="4.2" fill="#4a8420"/>
<rect x="320.4" y="269.9" width="4.2" height="4.2" fill="#4a8420"/>
<rect x="324.2" y="259.59999999999997" width="4.2" height="4.2" fill="#4a8420"/>
<rect x="328.9" y="266.4" width="4.2" height="4.2" fill="#4a8420"/>
<rect x="335.4" y="269.09999999999997" width="4.2" height="4.2" fill="#4a8420"/>
<rect x="346.65" y="271.09999999999997" width="4.2" height="4.2" fill="#4a8420"/>
<rect x="364.15" y="268.9" width="4.2" height="4.2" fill="#4a8420"/>
<rect x="408.4" y="267.4" width="4.2" height="4.2" fill="#4a8420"/>
<rect x="508.29999999999995" y="248.5" width="4.2" height="4.2" fill="#4a8420"/>
<polyline points="307.6,262.5 314.7,252.5 317.8,276 322,273.8 326,272.5 330.6,269.5 336.2,271.7 348.75,272.2 366.25,267.5 410.5,268.8 510.4,263.4" fill="none" stroke="#40148a" stroke-width="1.5" stroke-linejoin="round"/>
<polygon points="307.6,259.8 310.3,262.5 307.6,265.2 304.90000000000003,262.5" fill="#40148a"/>
<polygon points="314.7,249.8 317.4,252.5 314.7,255.2 312.0,252.5" fill="#40148a"/>
<polygon points="317.8,273.3 320.5,276 317.8,278.7 315.1,276" fill="#40148a"/>
<polygon points="322,271.1 324.7,273.8 322,276.5 319.3,273.8" fill="#40148a"/>
<polygon points="326,269.8 328.7,272.5 326,275.2 323.3,272.5" fill="#40148a"/>
<polygon points="330.6,266.8 333.3,269.5 330.6,272.2 327.90000000000003,269.5" fill="#40148a"/>
<polygon points="336.2,269.0 338.9,271.7 336.2,274.4 333.5,271.7" fill="#40148a"/>
<polygon points="348.75,269.5 351.45,272.2 348.75,274.9 346.05,272.2" fill="#40148a"/>
<polygon points="366.25,264.8 368.95,267.5 366.25,270.2 363.55,267.5" fill="#40148a"/>
<polygon points="410.5,266.1 413.2,268.8 410.5,271.5 407.8,268.8" fill="#40148a"/>
<polygon points="510.4,260.7 513.1,263.4 510.4,266.09999999999997 507.7,263.4" fill="#40148a"/>
<rect x="305.70000000000005" y="229.79999999999998" width="3.8" height="3.8" fill="#22ee22"/>
<text x="1.0" y="327.4" font-size="11.8" text-anchor="start" >E</text>
<text x="110.5" y="338.3" font-size="11.3" text-anchor="start" textLength="60.7" lengthAdjust="spacingAndGlyphs" >CD8+ Naive</text>
<rect x="37.6" y="395" width="211.4" height="7.600000000000023" fill="#9a9a9a"/>
<line x1="32.4" y1="355.5" x2="32.4" y2="389.2" stroke="#000" stroke-width="1.35"/>
<line x1="29.799999999999997" y1="355.5" x2="32.4" y2="355.5" stroke="#000" stroke-width="1.35"/>
<text x="28.8" y="358.272" font-size="7.7" text-anchor="end" >2500</text>
<line x1="29.799999999999997" y1="371.25" x2="32.4" y2="371.25" stroke="#000" stroke-width="1.35"/>
<text x="28.8" y="374.022" font-size="7.7" text-anchor="end" >1500</text>
<line x1="29.799999999999997" y1="387.0" x2="32.4" y2="387.0" stroke="#000" stroke-width="1.35"/>
<text x="28.8" y="389.772" font-size="7.7" text-anchor="end" >500</text>
<line x1="31.6" y1="389.2" x2="33.4" y2="389.2" stroke="#000" stroke-width="1.1"/>
<line x1="32.4" y1="395.8" x2="32.4" y2="432" stroke="#000" stroke-width="1.35"/>
<line x1="29.799999999999997" y1="396.15" x2="32.4" y2="396.15" stroke="#000" stroke-width="1.35"/>
<text x="28.8" y="398.92199999999997" font-size="7.7" text-anchor="end" >300</text>
<line x1="29.799999999999997" y1="408.1" x2="32.4" y2="408.1" stroke="#000" stroke-width="1.35"/>
<text x="28.8" y="410.872" font-size="7.7" text-anchor="end" >200</text>
<line x1="29.799999999999997" y1="420.05" x2="32.4" y2="420.05" stroke="#000" stroke-width="1.35"/>
<text x="28.8" y="422.822" font-size="7.7" text-anchor="end" >100</text>
<line x1="29.799999999999997" y1="432.0" x2="32.4" y2="432.0" stroke="#000" stroke-width="1.35"/>
<text x="28.8" y="434.772" font-size="7.7" text-anchor="end" >0</text>
<line x1="31.9" y1="432" x2="249" y2="432" stroke="#000" stroke-width="1.35"/>
<line x1="32.6" y1="432" x2="32.6" y2="434.6" stroke="#000" stroke-width="1.35"/>
<text x="32.6" y="443" font-size="8.1" text-anchor="middle" >-20</text>
<line x1="59.625" y1="432" x2="59.625" y2="434.6" stroke="#000" stroke-width="1.35"/>
<text x="59.625" y="443" font-size="8.1" text-anchor="middle" >30</text>
<line x1="86.65" y1="432" x2="86.65" y2="434.6" stroke="#000" stroke-width="1.35"/>
<text x="86.65" y="443" font-size="8.1" text-anchor="middle" >80</text>
<line x1="113.67500000000001" y1="432" x2="113.67500000000001" y2="434.6" stroke="#000" stroke-width="1.35"/>
<text x="113.67500000000001" y="443" font-size="8.1" text-anchor="middle" >130</text>
<line x1="140.7" y1="432" x2="140.7" y2="434.6" stroke="#000" stroke-width="1.35"/>
<text x="140.7" y="443" font-size="8.1" text-anchor="middle" >180</text>
<line x1="167.725" y1="432" x2="167.725" y2="434.6" stroke="#000" stroke-width="1.35"/>
<text x="167.725" y="443" font-size="8.1" text-anchor="middle" >230</text>
<line x1="194.75" y1="432" x2="194.75" y2="434.6" stroke="#000" stroke-width="1.35"/>
<text x="194.75" y="443" font-size="8.1" text-anchor="middle" >280</text>
<line x1="221.77499999999998" y1="432" x2="221.77499999999998" y2="434.6" stroke="#000" stroke-width="1.35"/>
<text x="221.77499999999998" y="443" font-size="8.1" text-anchor="middle" >330</text>
<line x1="248.79999999999998" y1="432" x2="248.79999999999998" y2="434.6" stroke="#000" stroke-width="1.35"/>
<text x="248.79999999999998" y="443" font-size="8.1" text-anchor="middle" >380</text>
<text x="101.6" y="457.2" font-size="8" text-anchor="start" textLength="79.2" lengthAdjust="spacingAndGlyphs" >Days post-transplant</text>
<text x="7.2" y="406" font-size="9.3" transform="rotate(-90 7.2 406)" textLength="31.8" lengthAdjust="spacingAndGlyphs">Cells/µl</text>
<line x1="35.2" y1="398.5" x2="35.2" y2="402.4" stroke="#222" stroke-width="1.2"/>
<line x1="33.300000000000004" y1="398.5" x2="37.1" y2="398.5" stroke="#222" stroke-width="1.2"/>
<line x1="33.300000000000004" y1="402.4" x2="37.1" y2="402.4" stroke="#222" stroke-width="1.2"/>
<line x1="42.4" y1="411.3" x2="42.4" y2="428.2" stroke="#222" stroke-width="1.2"/>
<line x1="40.5" y1="411.3" x2="44.3" y2="411.3" stroke="#222" stroke-width="1.2"/>
<line x1="40.5" y1="428.2" x2="44.3" y2="428.2" stroke="#222" stroke-width="1.2"/>
<line x1="53.5" y1="421.5" x2="53.5" y2="428" stroke="#333" stroke-width="1.2"/>
<line x1="51.6" y1="421.5" x2="55.4" y2="421.5" stroke="#333" stroke-width="1.2"/>
<line x1="51.6" y1="428" x2="55.4" y2="428" stroke="#333" stroke-width="1.2"/>
<line x1="58.8" y1="422.5" x2="58.8" y2="430" stroke="#333" stroke-width="1.2"/>
<line x1="56.9" y1="422.5" x2="60.699999999999996" y2="422.5" stroke="#333" stroke-width="1.2"/>
<line x1="56.9" y1="430" x2="60.699999999999996" y2="430" stroke="#333" stroke-width="1.2"/>
<line x1="65.5" y1="423.5" x2="65.5" y2="430" stroke="#333" stroke-width="1.2"/>
<line x1="63.6" y1="423.5" x2="67.4" y2="423.5" stroke="#333" stroke-width="1.2"/>
<line x1="63.6" y1="430" x2="67.4" y2="430" stroke="#333" stroke-width="1.2"/>
<line x1="77" y1="423" x2="77" y2="430" stroke="#333" stroke-width="1.2"/>
<line x1="75.1" y1="423" x2="78.9" y2="423" stroke="#333" stroke-width="1.2"/>
<line x1="75.1" y1="430" x2="78.9" y2="430" stroke="#333" stroke-width="1.2"/>
<line x1="96.5" y1="416.5" x2="96.5" y2="426.9" stroke="#222" stroke-width="1.2"/>
<line x1="94.6" y1="416.5" x2="98.4" y2="416.5" stroke="#222" stroke-width="1.2"/>
<line x1="94.6" y1="426.9" x2="98.4" y2="426.9" stroke="#222" stroke-width="1.2"/>
<line x1="141.5" y1="415.7" x2="141.5" y2="428.3" stroke="#222" stroke-width="1.2"/>
<line x1="139.6" y1="415.7" x2="143.4" y2="415.7" stroke="#222" stroke-width="1.2"/>
<line x1="139.6" y1="428.3" x2="143.4" y2="428.3" stroke="#222" stroke-width="1.2"/>
<line x1="246.3" y1="414.5" x2="246.3" y2="427" stroke="#222" stroke-width="1.2"/>
<line x1="244.4" y1="414.5" x2="248.20000000000002" y2="414.5" stroke="#222" stroke-width="1.2"/>
<line x1="244.4" y1="427" x2="248.20000000000002" y2="427" stroke="#222" stroke-width="1.2"/>
<polyline points="35.2,427.7 42.4,432.5 48,430 53.5,425.3 58.8,427 65.5,427.5 77,427.3 96.5,425.5 141.5,421.3 246.3,416.6" fill="none" stroke="#4a8420" stroke-width="1.4" stroke-linejoin="round"/>
<rect x="33.1" y="425.59999999999997" width="4.2" height="4.2" fill="#4a8420"/>
<rect x="40.3" y="430.4" width="4.2" height="4.2" fill="#4a8420"/>
<rect x="45.9" y="427.9" width="4.2" height="4.2" fill="#4a8420"/>
<rect x="51.4" y="423.2" width="4.2" height="4.2" fill="#4a8420"/>
<rect x="56.699999999999996" y="424.9" width="4.2" height="4.2" fill="#4a8420"/>
<rect x="63.4" y="425.4" width="4.2" height="4.2" fill="#4a8420"/>
<rect x="74.9" y="425.2" width="4.2" height="4.2" fill="#4a8420"/>
<rect x="94.4" y="423.4" width="4.2" height="4.2" fill="#4a8420"/>
<rect x="139.4" y="419.2" width="4.2" height="4.2" fill="#4a8420"/>
<rect x="244.20000000000002" y="414.5" width="4.2" height="4.2" fill="#4a8420"/>
<polyline points="35.2,423.4 42.4,419.5 46.3,431 50.1,430.6 54,430.1 58.8,426.3 65.5,426.7 77,426.5 96.5,422.1 141.5,425 246.3,423.8" fill="none" stroke="#40148a" stroke-width="1.5" stroke-linejoin="round"/>
<polygon points="35.2,420.7 37.900000000000006,423.4 35.2,426.09999999999997 32.5,423.4" fill="#40148a"/>
<polygon points="42.4,416.8 45.1,419.5 42.4,422.2 39.699999999999996,419.5" fill="#40148a"/>
<polygon points="46.3,428.3 49.0,431 46.3,433.7 43.599999999999994,431" fill="#40148a"/>
<polygon points="50.1,427.90000000000003 52.800000000000004,430.6 50.1,433.3 47.4,430.6" fill="#40148a"/>
<polygon points="54,427.40000000000003 56.7,430.1 54,432.8 51.3,430.1" fill="#40148a"/>
<polygon points="58.8,423.6 61.5,426.3 58.8,429.0 56.099999999999994,426.3" fill="#40148a"/>
<polygon points="65.5,424.0 68.2,426.7 65.5,429.4 62.8,426.7" fill="#40148a"/>
<polygon points="77,423.8 79.7,426.5 77,429.2 74.3,426.5" fill="#40148a"/>
<polygon points="96.5,419.40000000000003 99.2,422.1 96.5,424.8 93.8,422.1" fill="#40148a"/>
<polygon points="141.5,422.3 144.2,425 141.5,427.7 138.8,425" fill="#40148a"/>
<polygon points="246.3,421.1 249.0,423.8 246.3,426.5 243.60000000000002,423.8" fill="#40148a"/>
<rect x="33.1" y="396.7" width="4.2" height="4.2" fill="#22ee22"/>
<line x1="351.3" y1="359.8" x2="369.2" y2="359.8" stroke="#4a8420" stroke-width="1.7"/>
<rect x="356.1" y="356" width="8.6" height="8.2" fill="#4a8420"/>
<text x="377" y="364.3" font-size="11.3" text-anchor="start" textLength="35.5" lengthAdjust="spacingAndGlyphs" >-GVHD</text>
<line x1="349.9" y1="376.4" x2="368.4" y2="376.4" stroke="#40148a" stroke-width="1.7"/>
<polygon points="357.5,373.3 361.5,373.3 363.3,376.6 361.5,379.9 357.5,379.9 355.7,376.6" fill="#40148a"/>
<text x="376.3" y="381" font-size="11.3" text-anchor="start" textLength="38.7" lengthAdjust="spacingAndGlyphs" >+GVHD</text>
<line x1="351.5" y1="393.4" x2="369" y2="393.4" stroke="#22ee22" stroke-width="1.7"/>
<circle cx="359.7" cy="393.6" r="3.8" fill="#22ee22"/>
<text x="377" y="398" font-size="11.3" text-anchor="start" textLength="39.2" lengthAdjust="spacingAndGlyphs" >Control</text>
</svg>
</body></html>
